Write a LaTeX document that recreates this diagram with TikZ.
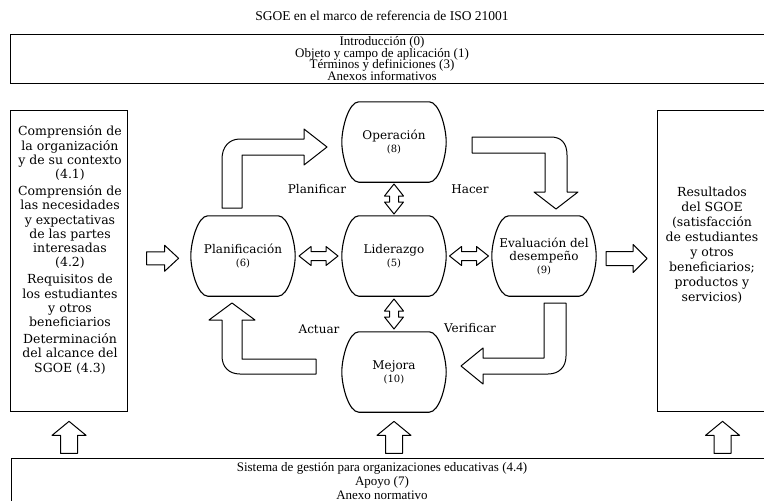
\documentclass[tikz,border=0pt]{standalone}
\usepackage{fontspec}
\setmainfont{Liberation Serif}
\newfontfamily\dejavu{DejaVu Serif}
\usetikzlibrary{calc}

\newcommand\smallnum{\fontsize{10}{13}\selectfont}
\setlength\lineskiplimit{-20pt}
\setlength\lineskip{0pt}

\tikzset{
  blk/.style={draw, line width=1pt, fill=white, line join=round},
  panel/.style={draw, line width=1.1pt, inner sep=0pt},
  stage/.style={minimum width=104pt, minimum height=80pt, inner sep=0pt, align=center,
    font=\dejavu\fontsize{12}{13}\selectfont},
  sidetext/.style={align=center, inner sep=0pt, font=\dejavu\fontsize{12.5}{14.2}\selectfont},
  steplabel/.style={inner sep=0pt, font=\dejavu\fontsize{12}{14}\selectfont},
  % hollow block arrow pointing along +x: length, half head width
  pics/fatarrow/.style 2 args={code={
    \draw[blk] ({-#1/2},{-#2/2}) -- ({#1/2-14},{-#2/2}) -- ({#1/2-14},-#2) -- ({#1/2},0)
      -- ({#1/2-14},#2) -- ({#1/2-14},{#2/2}) -- ({-#1/2},{#2/2}) -- cycle;}},
  % small two-headed block arrow
  pics/dblarrow/.style={code={
    \draw[blk] ({-#1/2},0) -- ({-#1/2+12},-9.5) -- ({-#1/2+12},-4.5) -- ({#1/2-12},-4.5)
      -- ({#1/2-12},-9.5) -- ({#1/2},0) -- ({#1/2-12},9.5) -- ({#1/2-12},4.5)
      -- ({-#1/2+12},4.5) -- ({-#1/2+12},9.5) -- cycle;}}
}

\begin{document}
\begin{tikzpicture}[x=1pt, y=-1pt]
\useasboundingbox (0,0) rectangle (764,501);
\clip (0,0) rectangle (764,501);
\fill[white] (0,0) rectangle (764,501);

% title, top and bottom panels
\node[font=\fontsize{13.5}{15}\selectfont] (title) at (382,16) {SGOE en el marco de referencia de ISO 21001};
\node[panel, minimum width=790pt, minimum height=49pt, anchor=north west] (top) at (10,34) {};
\node[align=center, inner sep=0pt, font=\fontsize{13}{11.5}\selectfont] (toptxt) at (382,58.5)
  {Introducción (0)\\Objeto y campo de aplicación (1)\\Términos y definiciones (3)\\Anexos informativos};
\node[panel, minimum width=790pt, minimum height=70pt, anchor=north west] (bottom) at (11,458) {};
\node[align=center, inner sep=0pt, font=\fontsize{13}{14}\selectfont] (bottomtxt) at (382,481)
  {Sistema de gestión para organizaciones educativas (4.4)\\Apoyo (7)\\Anexo normativo};

% side panels
\node[panel, minimum width=117pt, minimum height=301pt, anchor=north west] (leftbox) at (10,110) {};
\node[sidetext] (lefttxt) at (70,250) {Comprensión de\\la organización\\y de su contexto\\(4.1)\\[3pt]%
  Comprensión de\\las necesidades\\y expectativas\\de las partes\\interesadas\\(4.2)\\[3pt]%
  Requisitos de\\los estudiantes\\y otros\\beneficiarios\\[3pt]%
  Determinación\\del alcance del\\SGOE (4.3)};
\node[panel, minimum width=130pt, minimum height=301pt, anchor=north west] (rightbox) at (657,110) {};
\node[sidetext, font=\dejavu\fontsize{12.5}{15}\selectfont] (righttxt) at (712,245)
  {Resultados\\del SGOE\\(satisfacción\\de estudiantes\\y otros\\beneficiarios;\\productos y\\servicios)};

% PDCA stages
\node[stage] (plan) at (243,256) {Planificación\\{\smallnum(6)}};
\node[stage] (oper) at (394,142) {Operación\\{\smallnum(8)}};
\node[stage] (lider) at (394,256) {Liderazgo\\{\smallnum(5)}};
\node[stage] (eval) at (544,256) {Evaluación del\\desempeño\\{\smallnum(9)}};
\node[stage] (mejora) at (394,372) {Mejora\\{\smallnum(10)}};
\foreach \n in {plan,oper,lider,eval,mejora}
  \draw[line width=1.1pt]
    ($(\n.north west)+(17,0)$) -- ($(\n.north east)+(-17,0)$)
    .. controls ($(\n.north east)+(-7,0)$) and ($(\n.north east)+(0,26)$) .. (\n.east)
    .. controls ($(\n.south east)+(0,-26)$) and ($(\n.south east)+(-7,0)$) .. ($(\n.south east)+(-17,0)$)
    -- ($(\n.south west)+(17,0)$)
    .. controls ($(\n.south west)+(7,0)$) and ($(\n.south west)+(0,-26)$) .. (\n.west)
    .. controls ($(\n.north west)+(0,26)$) and ($(\n.north west)+(7,0)$) .. cycle;

% links around Liderazgo
\pic[rotate=90] at ($(oper.south)!0.5!(lider.north)$) {dblarrow=30};
\pic[rotate=90] at ($(lider.south)!0.5!(mejora.north)$) {dblarrow=30};
\pic at ($(plan.east)!0.5!(lider.west)$) {dblarrow=39};
\pic at ($(lider.east)!0.5!(eval.west)$) {dblarrow=39};

% inputs and outputs
\pic at ($(leftbox.east)!0.55!(plan.west)$) {fatarrow={32}{13}};
\pic at ($(eval.east)!0.5!(rightbox.west)$) {fatarrow={41}{14}};
\foreach \n in {leftbox,mejora,rightbox}
  \pic[rotate=90] at ($(\n.south)!0.55!(\n.south|-bottom.north)$) {fatarrow={32}{17}};

% the cycle
\draw[blk] (222,208) -- (222,159) .. controls (222,147) and (229,139) .. (240,139) -- (304,139)
  -- (304,129) -- (327,147) -- (304,165) -- (304,155) -- (242,155) -- (242,208) -- cycle;
\draw[blk] (472,137) -- (551,137) .. controls (561,137) and (567,143) .. (567,155) -- (567,192)
  -- (578,192) -- (556,209) -- (534,192) -- (545,192) -- (545,153) -- (472,153) -- cycle;
\draw[blk] (544,303) -- (566,303) -- (566,356) .. controls (566,367) and (559,374) .. (548,374)
  -- (483,374) -- (483,384) -- (461,366) -- (483,348) -- (483,358) -- (544,358) -- cycle;
\draw[blk] (316,359) -- (242,359) -- (242,320) -- (255,320) -- (232,303) -- (209,320) -- (222,320)
  -- (222,356) .. controls (222,367) and (229,374) .. (240,374) -- (316,374) -- cycle;

\node[steplabel] (lplan) at (317,189) {Planificar};
\node[steplabel] (lhacer) at (470,189) {Hacer};
\node[steplabel] (lverif) at (470,328) {Verificar};
\node[steplabel] (lactuar) at (319,329) {Actuar};
\end{tikzpicture}
\end{document}
